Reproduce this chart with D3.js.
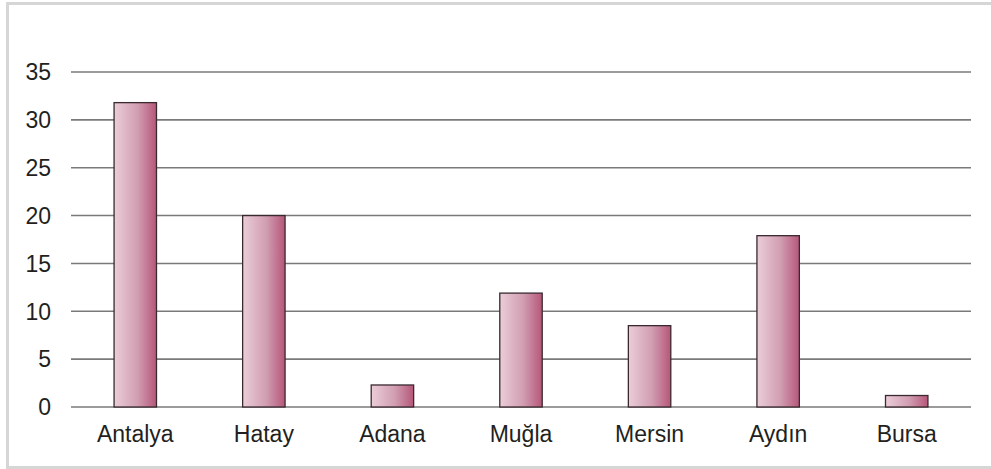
<!DOCTYPE html>
<html>
<head>
<meta charset="utf-8">
<script src="https://cdn.jsdelivr.net/npm/d3@7"></script>
<style>
  body { margin: 0; background: #fff; }
  text { font-family: "Liberation Sans", Arial, sans-serif; }
</style>
</head>
<body>
<div id="chart"></div>
<script>
// city names and values
const cities = ["Antalya", "Hatay", "Adana", "Muğla", "Mersin", "Aydın", "Bursa"];
const values = [31.8, 20, 2.3, 11.9, 8.5, 17.9, 1.2];
const yTicks = [0, 5, 10, 15, 20, 25, 30, 35];

const W = 991, H = 469;
const margin = {top: 72, right: 20, bottom: 62, left: 71};

const svg = d3.select("#chart")
  .append("svg")
    .attr("width", W)
    .attr("height", H);

const defs = svg.append("defs");
const grad = defs.append("linearGradient")
    .attr("id", "barGrad")
    .attr("x1", "0%").attr("x2", "100%")
    .attr("y1", "0%").attr("y2", "0%");
grad.append("stop").attr("offset", "0%").attr("stop-color", "#ebcdd8");
grad.append("stop").attr("offset", "55%").attr("stop-color", "#d19eb2");
grad.append("stop").attr("offset", "100%").attr("stop-color", "#b65679");

// frame: grey edge on top, left and bottom, open to the right
svg.append("rect")
    .attr("x", 6).attr("y", 2)
    .attr("width", W + 10).attr("height", 467)
    .attr("fill", "#d6d6d6");
svg.append("rect")
    .attr("x", 9).attr("y", 5)
    .attr("width", W + 10).attr("height", 461)
    .attr("fill", "#fff");

const x = d3.scaleBand()
  .domain(cities)
  .range([margin.left, 971])
  .paddingInner(0.67)
  .paddingOuter(0.335);

const y = d3.scaleLinear()
  .domain([0, 35])
  .range([407, 72]);

// gridlines
svg.append("g")
  .selectAll("line")
  .data(yTicks)
  .join("line")
    .attr("x1", margin.left)
    .attr("x2", 971)
    .attr("y1", d => y(d))
    .attr("y2", d => y(d))
    .attr("stroke", "#7a7a7a")
    .attr("stroke-width", 1.6);

// y tick labels
svg.append("g")
  .selectAll("text")
  .data(yTicks)
  .join("text")
    .attr("x", 51)
    .attr("y", d => y(d))
    .attr("dy", "0.36em")
    .attr("text-anchor", "end")
    .attr("font-size", "23px")
    .attr("fill", "#231f20")
    .text(d => d);

// bars
svg.append("g")
  .selectAll("rect")
  .data(values)
  .join("rect")
    .attr("x", (d, i) => x(cities[i]))
    .attr("y", d => y(d))
    .attr("width", x.bandwidth())
    .attr("height", d => y(0) - y(d))
    .attr("fill", "url(#barGrad)")
    .attr("stroke", "#3a2a30")
    .attr("stroke-width", 1.3);

// category labels
svg.append("g")
  .selectAll("text")
  .data(cities)
  .join("text")
    .attr("x", d => x(d) + x.bandwidth() / 2)
    .attr("y", 442)
    .attr("text-anchor", "middle")
    .attr("font-size", "23px")
    .attr("fill", "#231f20")
    .text(d => d);
</script>
</body>
</html>
